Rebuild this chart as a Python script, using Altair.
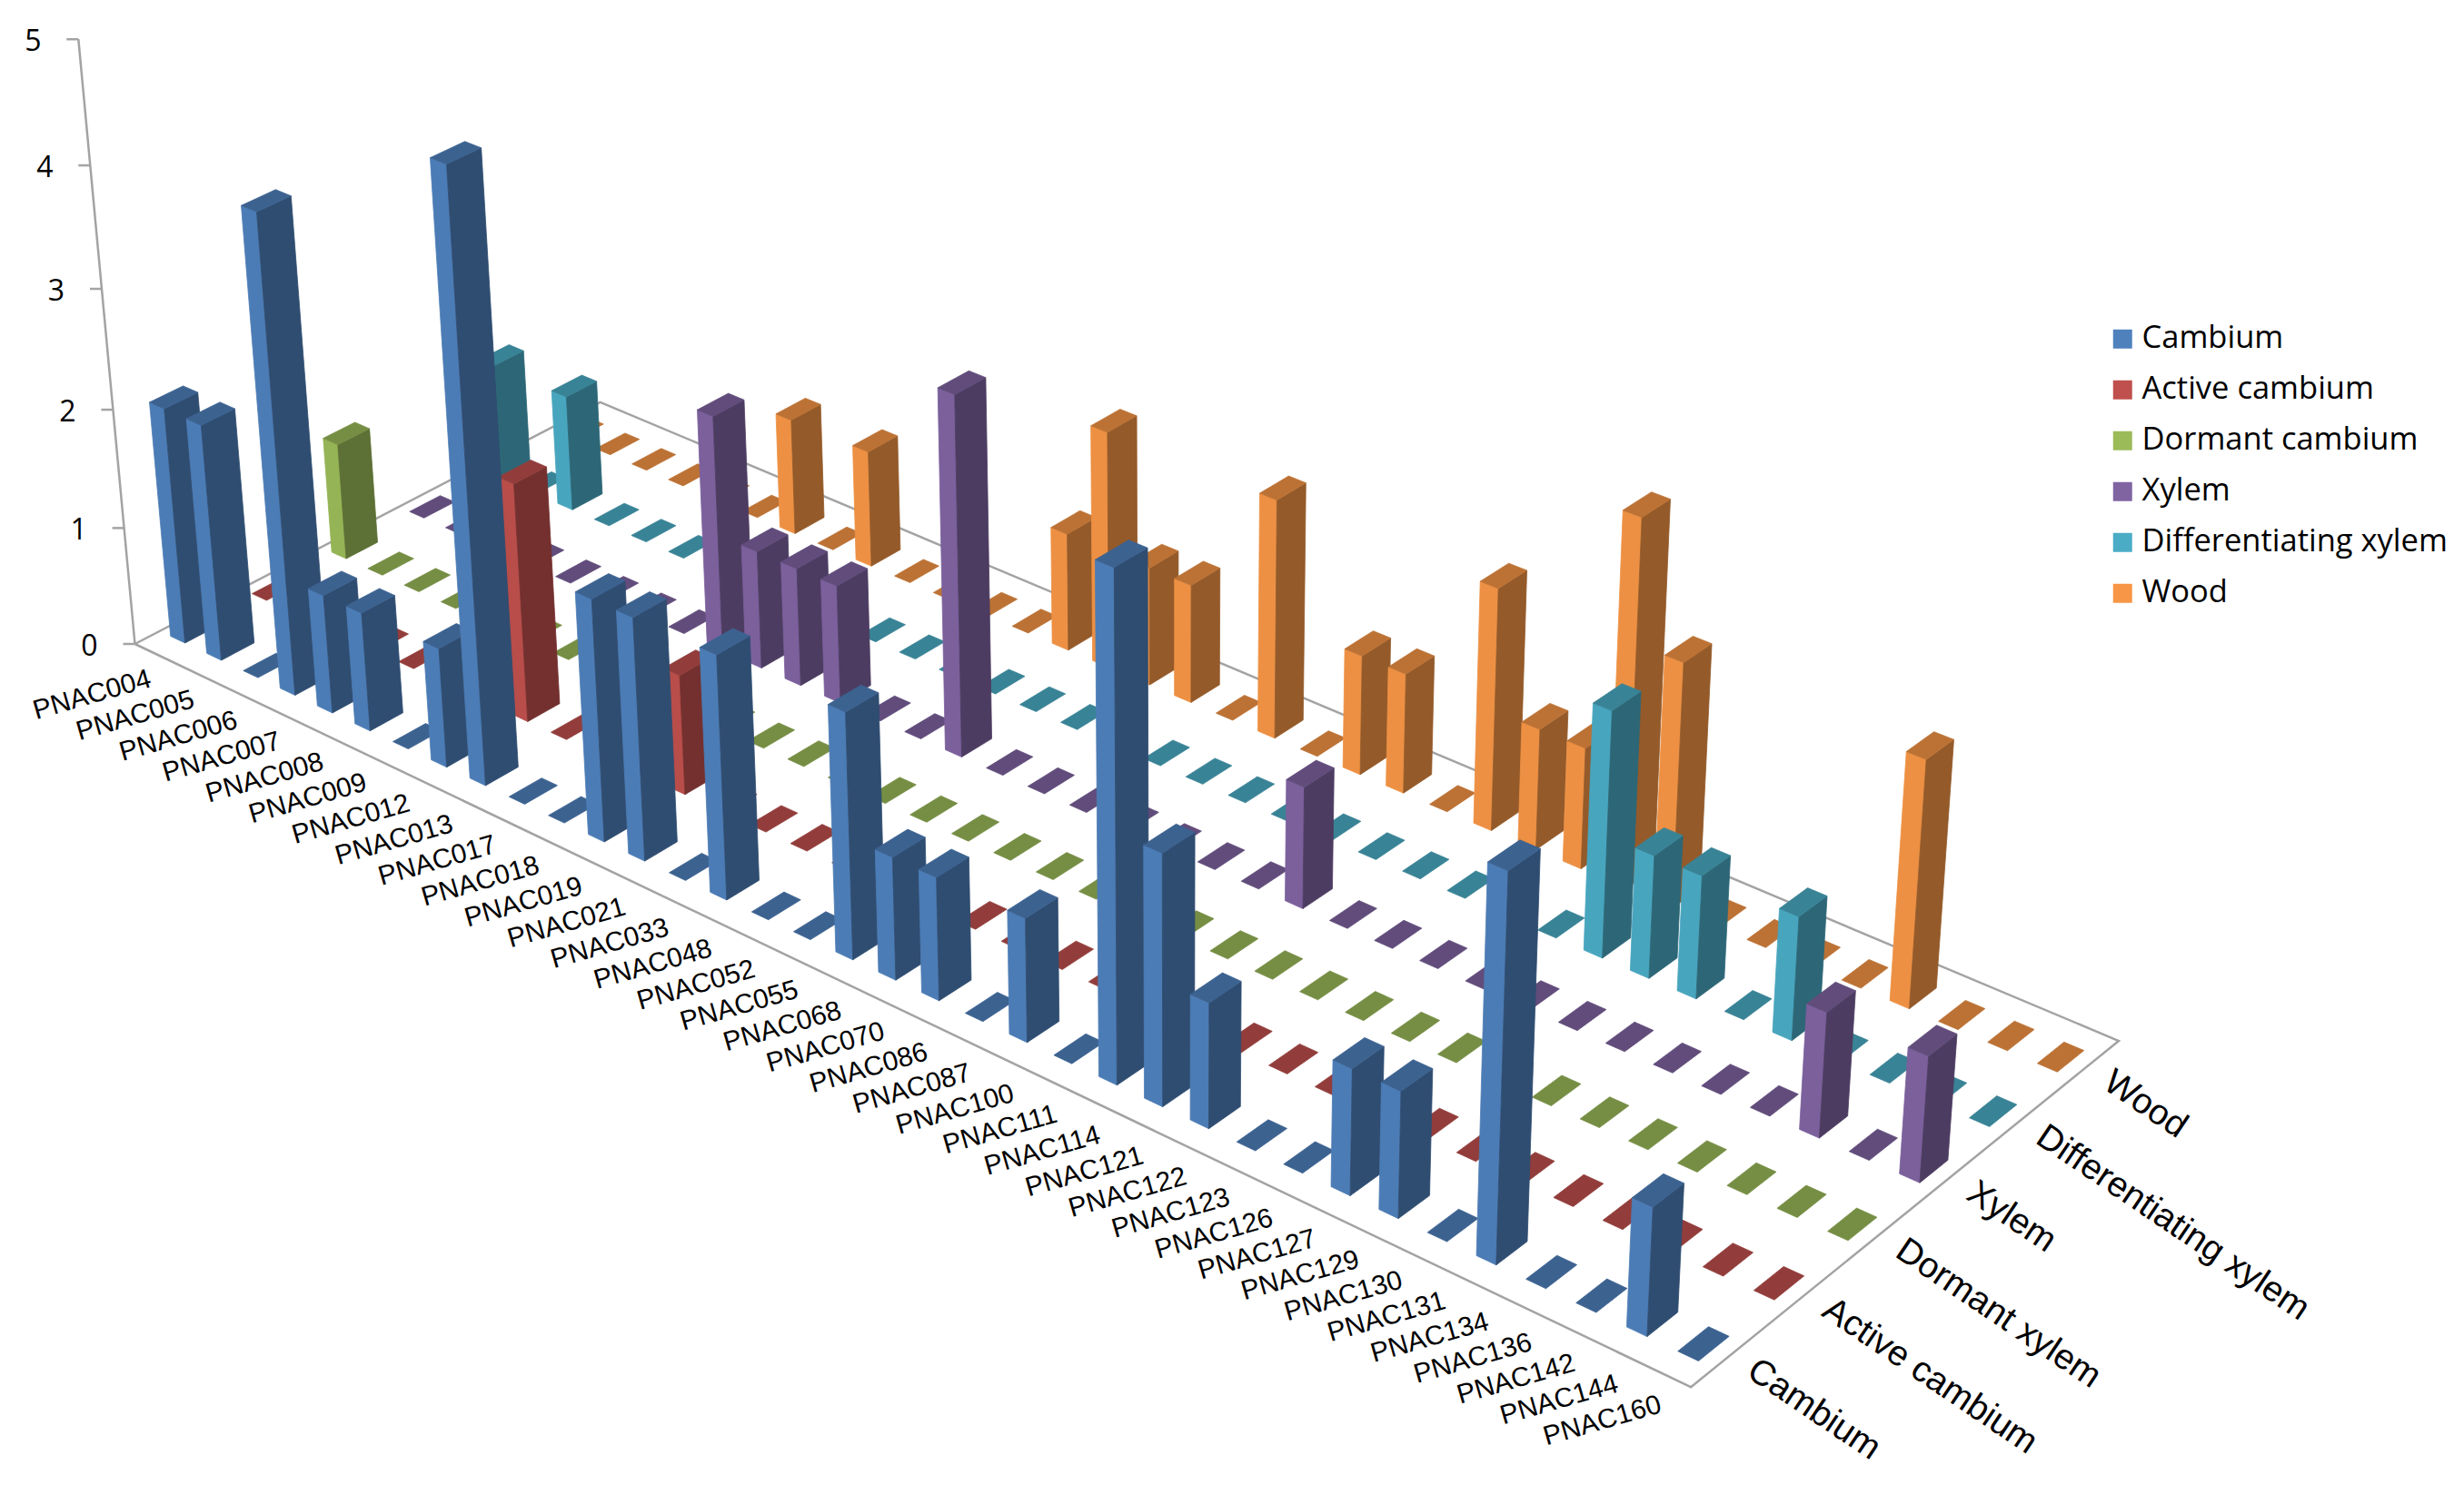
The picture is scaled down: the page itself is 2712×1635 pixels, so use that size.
import altair as alt
import pandas as pd

# ---------------- data ----------------
genes = ["PNAC004", "PNAC005", "PNAC006", "PNAC007", "PNAC008", "PNAC009", "PNAC012", "PNAC013",
         "PNAC017", "PNAC018", "PNAC019", "PNAC021", "PNAC033", "PNAC048", "PNAC052", "PNAC055",
         "PNAC068", "PNAC070", "PNAC086", "PNAC087", "PNAC100", "PNAC111", "PNAC114", "PNAC121",
         "PNAC122", "PNAC123", "PNAC126", "PNAC127", "PNAC129", "PNAC130", "PNAC131", "PNAC134",
         "PNAC136", "PNAC142", "PNAC144", "PNAC160"]

series_axis = ["Cambium", "Active cambium", "Dormant xylem", "Xylem", "Differentiating xylem", "Wood"]
series_legend = ["Cambium", "Active cambium", "Dormant cambium", "Xylem", "Differentiating xylem", "Wood"]

cambium =         [2, 2, 0, 4, 1, 1, 0, 1, 5, 0, 0, 2, 2, 0, 2, 0, 0, 2, 1, 1, 0, 1, 0, 4, 2, 1, 0, 0, 1, 1, 0, 3, 0, 0, 1, 0]
active_cambium =  [0, 0, 0, 0, 0, 0, 0, 2, 0, 0, 0, 1, 0, 0, 0, 0, 0, 0, 0, 0, 0, 0, 0, 0, 0, 0, 0, 0, 0, 0, 0, 0, 0, 0, 0, 0]
dormant =         [1, 0, 0, 0, 0, 0, 0, 0, 0, 0, 0, 0, 0, 0, 0, 0, 0, 0, 0, 0, 0, 0, 0, 0, 0, 0, 0, 0, 0, 0, 0, 0, 0, 0, 0, 0]
xylem =           [0, 0, 0, 0, 0, 0, 0, 0, 2, 1, 1, 1, 0, 0, 3, 0, 0, 0, 0, 0, 0, 0, 1, 0, 0, 0, 0, 0, 0, 0, 0, 0, 0, 1, 0, 1]
diff_xylem =      [1, 0, 1, 0, 0, 0, 0, 0, 0, 0, 0, 0, 0, 0, 0, 0, 0, 0, 0, 0, 0, 0, 0, 0, 0, 0, 0, 2, 1, 1, 0, 1, 0, 0, 0, 0]
wood =            [0, 0, 0, 0, 0, 0, 1, 0, 1, 0, 0, 0, 0, 1, 2, 1, 1, 0, 2, 0, 1, 1, 0, 2, 1, 1, 3, 2, 0, 0, 0, 0, 2, 0, 0, 0]

value_ticks = [0, 1, 2, 3, 4, 5]

series_values = [cambium, active_cambium, dormant, xylem, diff_xylem, wood]

# ---------------- styles ----------------
base_colors = ["#4F81BD", "#C0504D", "#9BBB59", "#8064A2", "#4BACC6", "#F79646"]


def shade(hexc, f):
    return "#%02x%02x%02x" % tuple(min(255, int(round(int(hexc[k:k + 2], 16) * f))) for k in (1, 3, 5))


# front face, right side face, top face
face_shades = [[shade(c, 0.96), shade(c, 0.60), shade(c, 0.76)] for c in base_colors]
LINE = "#a3a3a3"

# ---------------- 3D layout (projection) ----------------
W, H = 2690, 1612
FL = (140.5, 701.0)    # floor front-left corner
FR = (1853.1, 1519.2)  # floor front-right corner
BR = (2324.0, 1138.0)  # floor back-right corner
BL = (652.7, 434.8)    # floor back-left corner
AXIS_TOP = (78.3, 35.2)
AXIS_MAX = 5
PZ = -0.0103
GAP = 0.3

(x0, y0), (x1, y1), (x2, y2), (x3, y3) = FL, FR, BR, BL
dx1, dx2, dx3 = x1 - x2, x3 - x2, x0 - x1 + x2 - x3
dy1, dy2, dy3 = y1 - y2, y3 - y2, y0 - y1 + y2 - y3
den = dx1 * dy2 - dx2 * dy1
G = (dx3 * dy2 - dx2 * dy3) / den
Hc = (dx1 * dy3 - dx3 * dy1) / den
A = x1 - x0 + G * x1
B = x3 - x0 + Hc * x3
C = x0
D = y1 - y0 + G * y1
E = y3 - y0 + Hc * y3
F = y0
PXc = (AXIS_TOP[0] * (1 + AXIS_MAX * PZ) - C) / AXIS_MAX
PYc = (AXIS_TOP[1] * (1 + AXIS_MAX * PZ) - F) / AXIS_MAX


def num(v):
    return "(%.10g)" % v


def proj(U, Wv, Z):
    dn = f"({num(G)}*({U})+{num(Hc)}*({Wv})+{num(PZ)}*({Z})+1)"
    px = f"(({num(A)}*({U})+{num(B)}*({Wv})+{num(PXc)}*({Z})+{num(C)})/{dn})"
    py = f"(({num(D)}*({U})+{num(E)}*({Wv})+{num(PYc)}*({Z})+{num(F)})/{dn})"
    return px, py


NG, NS = len(genes), len(series_axis)
xsc = alt.Scale(domain=[0, W], nice=False, zero=False)
ysc = alt.Scale(domain=[0, H], nice=False, zero=False, reverse=True)

# ---------------- bars ----------------
rows = []
for j in range(NS - 1, -1, -1):
    for i in range(NG):
        rows.append({"i": i, "j": j, "v": series_values[j][i]})
bars_df = pd.DataFrame(rows)

bars = alt.Chart(bars_df).transform_calculate(
    ord=f"({NS - 1}-datum.j)*{NG}+datum.i",
    u0=f"(datum.i+{GAP})/{NG}",
    u1=f"(datum.i+{1 - GAP:.2f})/{NG}",
    w0=f"(datum.j+{GAP})/{NS}",
    w1=f"(datum.j+{1 - GAP:.2f})/{NS}",
)
corner_calc = {}
for a in (0, 1):
    for b in (0, 1):
        for t in (0, 1):
            U = "datum.u1" if a else "datum.u0"
            Wv = "datum.w1" if b else "datum.w0"
            Z = "datum.v" if t else "0"
            px, py = proj(U, Wv, Z)
            corner_calc[f"x{a}{b}{t}"] = px
            corner_calc[f"y{a}{b}{t}"] = py
bars = bars.transform_calculate(**corner_calc)
bars = bars.transform_calculate(faces="[0,1,2]").transform_flatten(["faces"], as_=["face"])
bars = bars.transform_filter("datum.v > 0 || datum.face == 2")

face_verts = {0: ["000", "100", "101", "001"],
              1: ["100", "110", "111", "101"],
              2: ["001", "101", "111", "011"]}
vert_calc = {}
for n in range(4):
    for c in ("x", "y"):
        vert_calc[f"v{c}{n}"] = (f"datum.face==0 ? datum.{c}{face_verts[0][n]} : "
                                 f"(datum.face==1 ? datum.{c}{face_verts[1][n]} : datum.{c}{face_verts[2][n]})")
bars = bars.transform_calculate(**vert_calc)
bars = bars.transform_calculate(ks="[0,1,2,3]").transform_flatten(["ks"], as_=["k"])
bars = bars.transform_calculate(xs="[datum.vx0,datum.vx1,datum.vx2,datum.vx3][datum.k]")

edge_calc = {}
for e, (p, q) in enumerate([(0, 1), (1, 2), (2, 3), (3, 0)]):
    xa, ya, xb, yb = f"datum.vx{p}", f"datum.vy{p}", f"datum.vx{q}", f"datum.vy{q}"
    inr = f"(datum.xs >= min({xa},{xb}) - 0.01 && datum.xs <= max({xa},{xb}) + 0.01)"
    vert = f"(abs({xb}-{xa}) < 0.01)"
    yint = f"({ya} + ({yb}-{ya})*clamp((datum.xs-{xa})/({xb}-{xa}),0,1))"
    edge_calc[f"lo{e}"] = f"{inr} ? ({vert} ? min({ya},{yb}) : {yint}) : 1e9"
    edge_calc[f"hi{e}"] = f"{inr} ? ({vert} ? max({ya},{yb}) : {yint}) : -1e9"
bars = bars.transform_calculate(**edge_calc)

palette_expr = "[" + ",".join("[" + ",".join(f"'{c}'" for c in row) + "]" for row in face_shades) + "]"
bars = bars.transform_calculate(
    ytop="min(datum.lo0,datum.lo1,datum.lo2,datum.lo3)",
    ybot="max(datum.hi0,datum.hi1,datum.hi2,datum.hi3)",
    fid="'f' + (10000 + datum.ord*3 + datum.face)",
    col=f"{palette_expr}[datum.j][datum.face]",
)
bars = bars.mark_area(orient="vertical", interpolate="linear", strokeWidth=0.8, strokeJoin="round").encode(
    x=alt.X("xs:Q", scale=xsc, axis=None),
    y=alt.Y("ytop:Q", scale=ysc, axis=None, stack=None),
    y2="ybot:Q",
    detail="fid:N",
    fill=alt.Fill("col:N", scale=None),
    stroke=alt.Stroke("col:N", scale=None),
)

# ---------------- floor outline ----------------
floor_df = pd.DataFrame({"fu": [0, 1, 1, 0, 0], "fw": [0, 0, 1, 1, 0], "n": [0, 1, 2, 3, 4]})
fx, fy = proj("datum.fu", "datum.fw", "0")
floor = alt.Chart(floor_df).transform_calculate(fx=fx, fy=fy).mark_line(
    color=LINE, strokeWidth=2.5).encode(
    x=alt.X("fx:Q", scale=xsc, axis=None),
    y=alt.Y("fy:Q", scale=ysc, axis=None),
    order="n:Q",
)

# ---------------- value axis ----------------
axis_df = pd.DataFrame({"t0": [value_ticks[0]], "t1": [value_ticks[-1]]})
ax0, ay0 = proj("0", "0", "datum.t0")
ax1, ay1 = proj("0", "0", "datum.t1")
axis_line = alt.Chart(axis_df).transform_calculate(ax0=ax0, ay0=ay0, ax1=ax1, ay1=ay1).mark_rule(
    color=LINE, strokeWidth=2.5).encode(
    x=alt.X("ax0:Q", scale=xsc, axis=None), y=alt.Y("ay0:Q", scale=ysc, axis=None),
    x2="ax1:Q", y2="ay1:Q",
)

ticks_df = pd.DataFrame({"t": value_ticks})
tx, ty = proj("0", "0", "datum.t")
ticks_base = alt.Chart(ticks_df).transform_calculate(tx=tx, ty=ty).transform_calculate(
    tx2="datum.tx - 13", lx="datum.tx - 50", ly="datum.ty + 2.6")
ticks = ticks_base.mark_rule(color=LINE, strokeWidth=2.5).encode(
    x=alt.X("tx2:Q", scale=xsc, axis=None), x2="tx:Q",
    y=alt.Y("ty:Q", scale=ysc, axis=None),
)
tick_labels = ticks_base.mark_text(align="center", baseline="middle", font="Open Sans",
                                   fontSize=32, color="#000000").encode(
    x=alt.X("lx:Q", scale=xsc, axis=None),
    y=alt.Y("ly:Q", scale=ysc, axis=None),
    text=alt.Text("t:Q", format="d"),
)

# ---------------- category labels (evenly spaced along the front edge) ----------------
gene_df = pd.DataFrame({"gene": genes, "i": list(range(NG))})
gx0, gy0 = proj(f"0.5/{NG}", "0", "0")
gx1, gy1 = proj(f"({NG}-0.5)/{NG}", "0", "0")
cat_labels = alt.Chart(gene_df).transform_calculate(
    gx0=gx0, gy0=gy0, gx1=gx1, gy1=gy1, tt=f"datum.i/{NG - 1}").transform_calculate(
    cx="datum.gx0 + (datum.gx1-datum.gx0)*datum.tt - 7 - 2*datum.tt",
    cy="datum.gy0 + (datum.gy1-datum.gy0)*datum.tt + 14 + 4*datum.tt").mark_text(
    align="right", baseline="top", angle=344, font="Liberation Sans", fontSize=30, color="#000000").encode(
    x=alt.X("cx:Q", scale=xsc, axis=None),
    y=alt.Y("cy:Q", scale=ysc, axis=None),
    text="gene:N",
)

# ---------------- series (depth) labels ----------------
ser_df = pd.DataFrame({"name": series_axis, "j": list(range(NS))})
sx, sy = proj("1", f"(datum.j+0.5)/{NS}", "0")
ser_labels = alt.Chart(ser_df).transform_calculate(sx=sx, sy=sy).transform_calculate(
    lx="datum.sx + 24", ly="datum.sy + 12").mark_text(
    align="left", baseline="middle", angle=34, font="Liberation Sans", fontSize=39, color="#000000").encode(
    x=alt.X("lx:Q", scale=xsc, axis=None),
    y=alt.Y("ly:Q", scale=ysc, axis=None),
    text="name:N",
)

# ---------------- legend ----------------
leg_df = pd.DataFrame({"series": series_legend})
legend = alt.Chart(leg_df).mark_square(size=441, clip=True, opacity=1).encode(
    x=alt.value(-300), y=alt.value(-300),
    color=alt.Color("series:N",
                    scale=alt.Scale(domain=series_legend, range=base_colors),
                    legend=alt.Legend(title=None, orient="none", legendX=2311, legendY=348,
                                      symbolType="square", symbolSize=441, symbolStrokeWidth=0,
                                      labelFont="Open Sans", labelFontSize=34.5, labelColor="#000000",
                                      labelOffset=4, rowPadding=21, padding=0, labelLimit=0)),
)

chart = alt.layer(floor, axis_line, ticks, tick_labels, bars, cat_labels, ser_labels, legend).properties(
    width=W, height=H, padding=0, autosize=alt.AutoSizeParams(type="none"),
).configure_view(stroke=None)

chart.save("out.html", embed_options={"renderer": "svg", "actions": False})
